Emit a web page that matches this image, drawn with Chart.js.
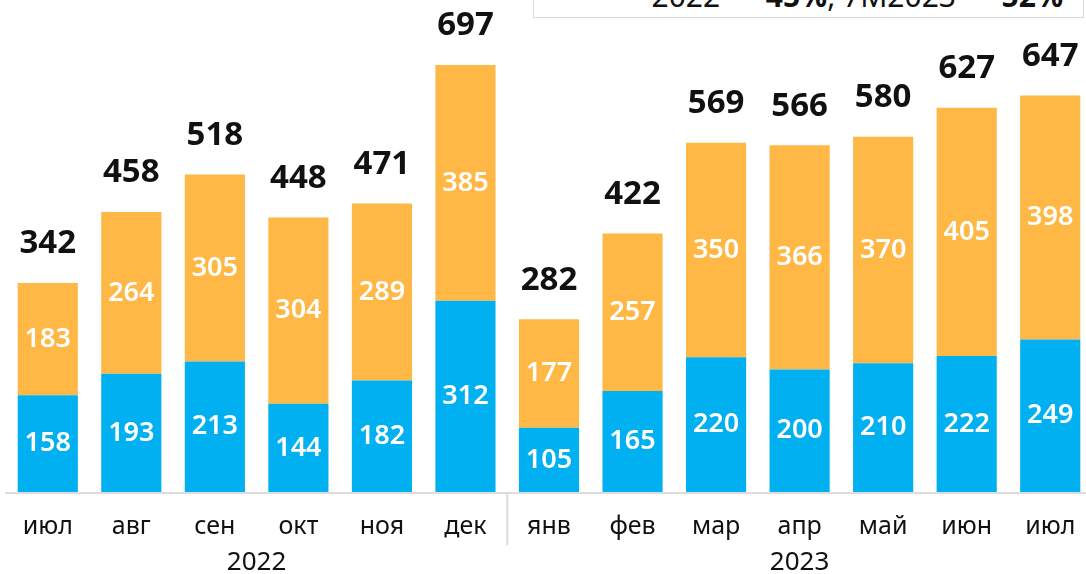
<!DOCTYPE html>
<html>
<head>
<meta charset="utf-8">
<script src="https://cdn.jsdelivr.net/npm/chart.js@4/dist/chart.umd.min.js"></script>
<style>
  html, body { margin: 0; padding: 0; background: #fff; overflow: hidden; }
  #wrap { position: absolute; left: 0; top: 0; width: 1092px; height: 574px; }
  #note {
    position: absolute; left: 533px; top: -34px; width: 551px; height: 52px;
    border: 1px solid #d9d9d9; background: #fff;
    font: 30px "Noto Sans", sans-serif; color: #111;
    text-align: right; padding: 11px 20px 0 0; box-sizing: border-box; line-height: 36px;
    white-space: nowrap;
  }
</style>
</head>
<body>
<div id="note">2022 — <b>45%</b>, 7M2023 — <b>52%</b></div>
<div id="wrap"><canvas id="chart"></canvas></div>
<script>
// --- data ---
const months = ['июл', 'авг', 'сен', 'окт', 'ноя', 'дек', 'янв', 'фев', 'мар', 'апр', 'май', 'июн', 'июл'];
const years = ['2022', '2023'];
const yearSpan = [6, 7]; // months per year group
const blueValues = [158, 193, 213, 144, 182, 312, 105, 165, 220, 200, 210, 222, 249];
const orangeValues = [183, 264, 305, 304, 289, 385, 177, 257, 350, 366, 370, 405, 398];
const totals = [342, 458, 518, 448, 471, 697, 282, 422, 569, 566, 580, 627, 647];

const FONT = '"Noto Sans", sans-serif';

// labels, axis line, separators and year captions
const labelsPlugin = {
  id: 'labels',
  afterDatasetsDraw(chart) {
    const ctx = chart.ctx;
    const x = chart.scales.x;
    const y = chart.scales.y;
    const base = y.getPixelForValue(0);
    ctx.save();
    ctx.textAlign = 'center';
    ctx.textBaseline = 'middle';

    // values inside segments
    ctx.fillStyle = '#fff';
    ctx.font = '600 27px ' + FONT;
    blueValues.forEach((v, i) => {
      const cx = x.getPixelForValue(i);
      const top = y.getPixelForValue(v);
      ctx.fillText(v, cx, (base + top) / 2);
      const top2 = y.getPixelForValue(v + orangeValues[i]);
      ctx.fillText(orangeValues[i], cx, (top + top2) / 2);
    });

    // totals above bars
    ctx.fillStyle = '#111';
    ctx.font = 'bold 33px ' + FONT;
    totals.forEach((t, i) => {
      const top = y.getPixelForValue(blueValues[i] + orangeValues[i]);
      ctx.fillText(t, x.getPixelForValue(i), top - 39);
    });

    // axis line
    ctx.strokeStyle = '#dcdcdc';
    ctx.lineWidth = 2;
    ctx.beginPath();
    ctx.moveTo(5, base + 1);
    ctx.lineTo(chart.width, base + 1);
    ctx.stroke();

    // month labels
    ctx.fillStyle = '#111';
    ctx.font = '25px ' + FONT;
    months.forEach((m, i) => ctx.fillText(m, x.getPixelForValue(i), base + 35));

    // year groups
    ctx.font = '26px ' + FONT;
    let start = 0;
    years.forEach((yr, g) => {
      const end = start + yearSpan[g] - 1;
      const mid = (x.getPixelForValue(start) + x.getPixelForValue(end)) / 2;
      ctx.fillText(yr, mid, base + 71);
      if (g > 0) {
        const sx = (x.getPixelForValue(start - 1) + x.getPixelForValue(start)) / 2;
        ctx.beginPath();
        ctx.moveTo(sx, base + 1);
        ctx.lineTo(sx, base + 53);
        ctx.stroke();
      }
      start = end + 1;
    });
    ctx.restore();
  }
};

new Chart(document.getElementById('chart'), {
  type: 'bar',
  data: {
    labels: months,
    datasets: [
      { data: blueValues, backgroundColor: '#00b0f0', barPercentage: 0.72, categoryPercentage: 1 },
      { data: orangeValues, backgroundColor: '#ffb845', barPercentage: 0.72, categoryPercentage: 1 }
    ]
  },
  options: {
    responsive: true,
    maintainAspectRatio: false,
    animation: false,
    layout: { padding: { left: 6, right: 0, top: 0, bottom: 82 } },
    plugins: { legend: { display: false }, tooltip: { enabled: false } },
    scales: {
      x: { stacked: true, display: false },
      y: { stacked: true, display: false, min: 0, max: 803 }
    }
  },
  plugins: [labelsPlugin]
});
</script>
</body>
</html>
